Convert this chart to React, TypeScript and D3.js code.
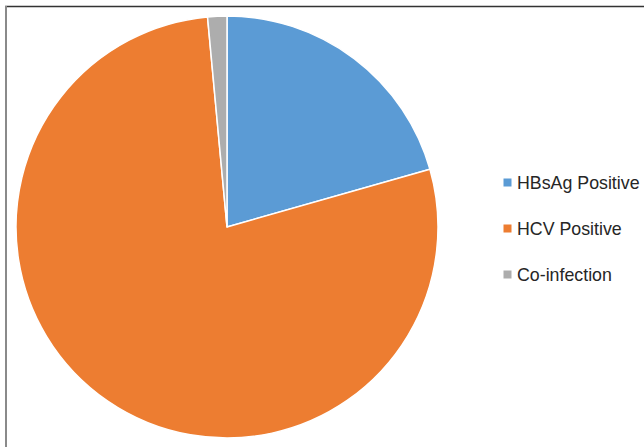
import React from "react";
import * as d3 from "d3";

const categories = ["HBsAg Positive", "HCV Positive", "Co-infection"];
const values = [14, 53, 1];
const colors = ["#5B9BD5", "#ED7D31", "#ADADAD"];

export default function App() {
  const W = 644, H = 447;
  const cx = 227, cy = 227, r = 211;
  const pie = d3.pie<number>().sort(null).value((d) => d);
  const arcs = pie(values);
  const arc = d3.arc<d3.PieArcDatum<number>>().innerRadius(0).outerRadius(r);
  const legendY = d3.scalePoint<string>().domain(categories).range([182, 274]);
  return (
    <svg width={W} height={H} style={{ position: "absolute", left: 0, top: 0, background: "#fff" }}>
      <rect x={0} y={0} width={W} height={H} fill="#fff" />
      <line x1={5} y1={6.5} x2={W} y2={6.5} stroke="#333" strokeWidth={1.6} />
      <line x1={6} y1={6} x2={6} y2={H} stroke="#8a8a8a" strokeWidth={2} />
      <g transform={`translate(${cx},${cy})`}>
        {arcs.map((a, i) => (
          <path key={i} d={arc(a) || ""} fill={colors[i]} stroke="#fff" strokeWidth={1.5} strokeLinejoin="round" />
        ))}
      </g>
      {categories.map((c, i) => {
        const y = legendY(c)!;
        return (
          <g key={c}>
            <rect x={503.5} y={y - 3.5} width={8} height={8} fill={colors[i]} />
            <text x={517} y={y + 6.5} fontFamily="Liberation Sans, Arial, sans-serif" fontSize={17.8} fill="#262626">
              {c}
            </text>
          </g>
        );
      })}
    </svg>
  );
}
